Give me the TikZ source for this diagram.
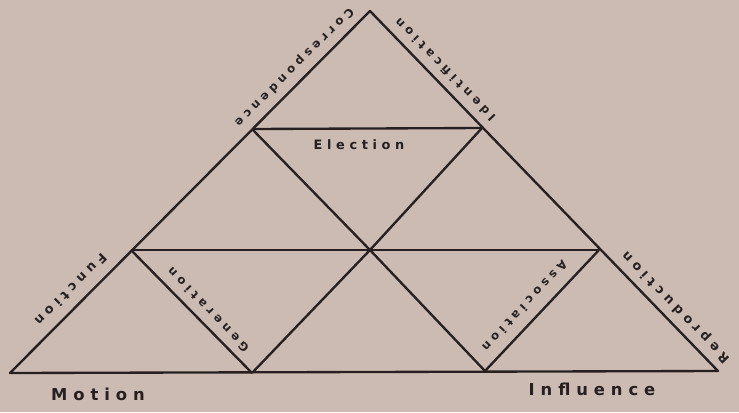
\documentclass[tikz,border=0pt]{standalone}
\usepackage{fontspec}
\newfontfamily\hand[LetterSpace=36]{DejaVu Sans}
\definecolor{paper}{RGB}{203,187,178}
\definecolor{ink}{RGB}{40,32,32}

\begin{document}
\begin{tikzpicture}[x=0.03cm, y=-0.03cm,
  edge/.style={draw=ink, line width=2pt, line join=round},
  lbl/.style={text=ink, inner sep=0pt, font=\hand\bfseries\fontsize{10}{12}\selectfont},
  midlbl/.style={lbl, font=\hand\bfseries\fontsize{11}{13}\selectfont},
  biglbl/.style={lbl, font=\hand\bfseries\fontsize{14}{16}\selectfont}]
\fill[paper] (0,0) rectangle (739,412);
\useasboundingbox (0,0) rectangle (739,412);
\coordinate (t) at (370,11);
\coordinate (bl) at (10,373);
\coordinate (br) at (718,371);
\coordinate (l1) at (252,129);
\coordinate (r1) at (482,128);
\coordinate (l2) at (131,250);
\coordinate (r2) at (599,250);
\coordinate (c) at (370,250);
\coordinate (b1) at (252,373);
\coordinate (b2) at (485,371);
\draw[edge] (t) -- (bl) -- (br) -- cycle;
\draw[edge] (l1) -- (r1);
\draw[edge] (l2) -- (r2);
\draw[edge] (l1) -- (c) -- (b2);
\draw[edge] (r1) -- (c) -- (b1);
\draw[edge] (l2) -- (b1);
\draw[edge] (r2) -- (b2);
\node[lbl, rotate=225] (corr) at (294,67) {Correspondence};
\node[lbl, rotate=134] (ident) at (445,70) {Identification};
\node[midlbl] (elect) at (359,145) {Election};
\node[midlbl, rotate=225] (func) at (71,290) {Function};
\node[lbl, rotate=134] (gen) at (208,310) {Generation};
\node[lbl, rotate=227] (assoc) at (525,306) {Association};
\node[midlbl, rotate=134] (repro) at (676,307) {Reproduction};
\node[biglbl] (mot) at (98,394) {Motion};
\node[biglbl] (infl) at (592,389) {Influence};
\end{tikzpicture}
\end{document}
